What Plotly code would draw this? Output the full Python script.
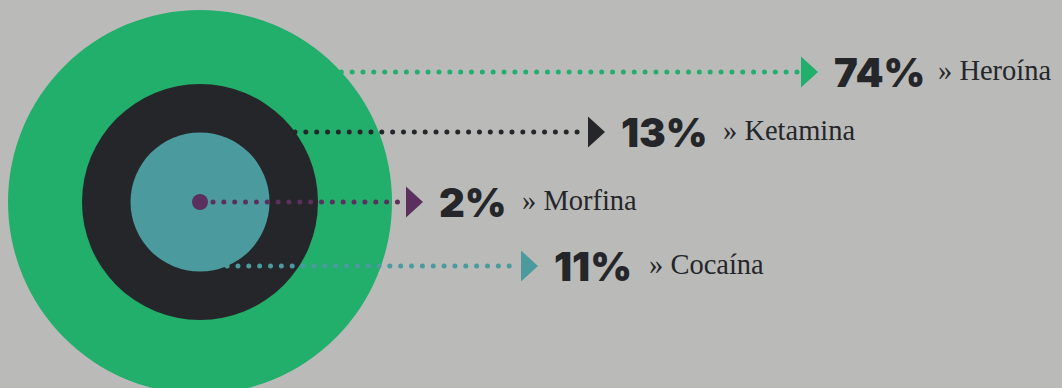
import numpy as np
import plotly.graph_objects as go

# ---- data ----
categories = ["Heroína", "Ketamina", "Morfina", "Cocaína"]
values = [74, 13, 2, 11]

# ---- style / layout constants ----
colors = ["#22ae6b", "#25262a", "#5b2f5e", "#4a9a9e"]
ring_r = [192, 118, 8, 69.5]          # ring radius per category (px)
line_y = [72, 132, 202, 266]
tip_x = [818, 605, 423, 538]
label_x = [936, 721, 520, 647]
cx, cy = 200, 202
W, H = 1062, 388
BG = "#babbb9"
TEXT = "#25262a"

fig = go.Figure()

# circles (largest first)
order = sorted(range(len(categories)), key=lambda i: -ring_r[i])
shapes = []
mi = categories.index("Morfina")
for i in order:
    if i == mi:
        continue
    r = ring_r[i]
    shapes.append(dict(type="circle", xref="x", yref="y",
                       x0=cx - r, x1=cx + r, y0=cy - r, y1=cy + r,
                       fillcolor=colors[i], line=dict(width=0), layer="below"))

annotations = []
for i, cat in enumerate(categories):
    y = line_y[i]
    dy = y - cy
    r = ring_r[i]
    if abs(dy) < r and r > 20:
        x0 = cx + np.sqrt(r * r - dy * dy)
    else:
        x0 = cx + r + 5
    base = tip_x[i] - 17
    xs = np.arange(x0, base - 3, 10.85)
    fig.add_trace(go.Scatter(x=xs, y=[y] * len(xs), mode="markers",
                             marker=dict(size=5, color=colors[i]),
                             hoverinfo="skip", showlegend=False))
    fig.add_trace(go.Scatter(x=[base, tip_x[i], base, base],
                             y=[y - 15.5, y, y + 15.5, y - 15.5],
                             mode="lines", fill="toself", fillcolor=colors[i],
                             line=dict(width=0, color=colors[i]),
                             hoverinfo="skip", showlegend=False))
    annotations.append(dict(x=tip_x[i] + 14, y=y, xref="x", yref="y",
                            text=f"{values[i]}%", showarrow=False,
                            xanchor="left", yanchor="middle",
                            font=dict(family="Inter", size=40, color=TEXT, weight=900)))
    annotations.append(dict(x=label_x[i], y=y - 2, xref="x", yref="y",
                            text=f"» {cat}", showarrow=False,
                            xanchor="left", yanchor="middle",
                            font=dict(family="Liberation Serif", size=28.5, color=TEXT)))

# purple center dot
fig.add_trace(go.Scatter(x=[cx], y=[cy], mode="markers",
                         marker=dict(size=ring_r[mi] * 2, color=colors[mi]),
                         hoverinfo="skip", showlegend=False))

fig.update_layout(
    width=W, height=H, margin=dict(l=0, r=0, t=0, b=0),
    paper_bgcolor=BG, plot_bgcolor=BG,
    xaxis=dict(range=[0, W], visible=False, fixedrange=True),
    yaxis=dict(range=[H, 0], visible=False, fixedrange=True),
    shapes=shapes, annotations=annotations, showlegend=False,
)

fig.write_html("out.html")
